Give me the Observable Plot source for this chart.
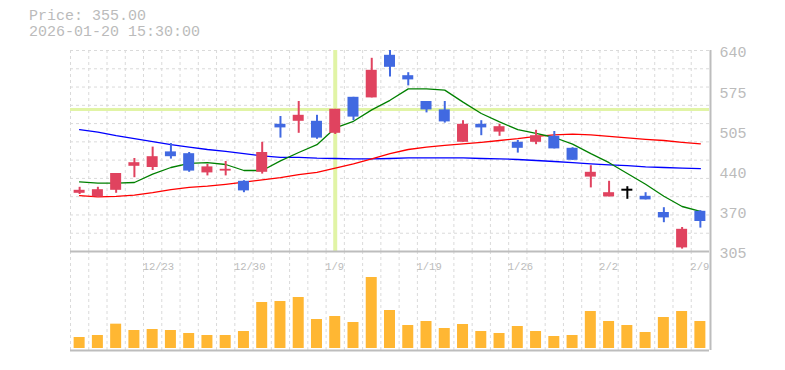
<!DOCTYPE html>
<html><head><meta charset="utf-8">
<script src="https://cdn.jsdelivr.net/npm/d3@7"></script>
<script src="https://cdn.jsdelivr.net/npm/@observablehq/plot@0.6"></script>
<style>
body{margin:0;background:#fff;}
#wrap{position:relative;width:785px;height:370px;overflow:hidden;background:#fff;}
#wrap svg{position:absolute;left:0;top:0;}
.ttl{position:absolute;left:29px;font-family:"Liberation Mono",monospace;font-size:15px;line-height:17px;color:#bbb;white-space:pre;}
</style></head><body>
<div id="wrap">
<div class="ttl" style="top:8px">Price: 355.00</div>
<div class="ttl" style="top:24px">2026-01-20 15:30:00</div>
</div>
<script>
const dates = ["12/17","12/18","12/19","12/22","12/23","12/24","12/25","12/26","12/29","12/30",
  "1/5","1/6","1/7","1/8","1/9","1/13","1/14","1/15","1/16","1/19",
  "1/20","1/21","1/22","1/23","1/26","1/27","1/28","1/29","1/30","2/2",
  "2/3","2/4","2/5","2/6","2/9"];
const open  = [402,396,407,447,445,471,468,436,439,422, 437,517,522,522,502,562,561,632,598,555, 541,487,517,504,487,487,497,477,429,396, 408,397,370,311,372];
const high  = [412,412,435,460,479,485,470,450,455,423, 487,530,555,532,542,562,627,640,603,555, 555,523,523,517,490,507,505,478,448,422, 413,403,378,345,373];
const low   = [400,395,402,428,440,459,437,431,431,403, 434,494,502,492,500,523,561,596,581,536, 519,487,498,497,469,483,476,457,411,396, 392,391,353,309,344];
const close = [407,408,435,453,463,463,439,446,442,406, 470,511,532,494,542,529,607,612,591,541, 521,517,511,513,477,498,476,457,437,403, 408,391,361,342,355];
const ma5   = [421,419,419,420,434,445,452,453,450,440, 440,456,470,483,511,522,541,557,576,576, 574,554,535,521,508,502,495,484,468,453, 435,417,397,380,372];
const ma25  = [398,396,397,399,403,408,412,414,417,420.5, 424.5,428,433,437,444,451,459.5,468,475,479, 482,484.5,487,490,493,497,499.5,500.5,499.5,497, 494.5,492,490,487,484.5];
const ma75  = [508,504,498,493,488,483,479,475,472,468, 464.5,462,462,460.5,460,459.5,459.5,460,461,461, 461,461,460,459.5,458.3,456.7,455,453,451,449.5, 448,446,445,444,443];
const volume = [33000,39000,73000,54000,57000,54000,45000,39000,39000,51000,
  138000,141000,153000,87000,96000,78000,213000,114000,69000,81000,
  60000,72000,51000,45000,66000,51000,36000,39000,111000,81000,
  69000,48000,93000,111000,81000];
const labelDates = ["12/23","12/30","1/9","1/19","1/26","2/2","2/9"];
const yTicks  = [305,372,439,506,573,640];
const yLabels = ["305","370","440","505","575","640"];
const crossDate = "1/9";
const crossPrice = 541.7;

const W = 785, H = 370, mL = 70, mR = 76;
const bw = (W - mL - mR) / dates.length;
const inset = (bw - 11) / 2;
const rows = dates.map((d, i) => ({date: d, o: open[i], h: high[i], l: low[i], c: close[i],
  v: volume[i], m5: ma5[i], m25: ma25[i], m75: ma75[i]}));
const col = r => r.c > r.o ? "#e0435f" : r.c < r.o ? "#4169e1" : "#000000";
const yDom = [305, 640];
const gridY = d3.range(12).map(k => yDom[0] + k * (yDom[1] - yDom[0]) / 11);
const grid = "#dadada", axisC = "#bdbdbd", cross = "#e1f4a6";
const font = "Liberation Mono, monospace";
const xOpt = {type: "band", domain: dates, padding: 0, round: false, axis: null};
const last = dates[dates.length - 1];

const price = Plot.plot({
  width: W, height: H, marginLeft: mL, marginRight: mR, marginTop: 50, marginBottom: H - 251,
  style: {background: "transparent", fontFamily: font, overflow: "visible"},
  x: xOpt,
  y: {domain: yDom, axis: null},
  marks: [
    Plot.ruleY(gridY.slice(1), {stroke: grid, strokeDasharray: "3,3"}),
    Plot.ruleX(dates, {x: d => d, dx: -bw / 2, stroke: grid, strokeDasharray: "3,3"}),
    Plot.ruleY([crossPrice], {stroke: cross, strokeWidth: 3}),
    Plot.ruleX([crossDate], {stroke: cross, strokeWidth: 4}),
    Plot.line(rows, {x: "date", y: "m75", stroke: "#0000ff", strokeWidth: 1.3}),
    Plot.line(rows, {x: "date", y: "m25", stroke: "#ff0000", strokeWidth: 1.3}),
    Plot.line(rows, {x: "date", y: "m5", stroke: "#008000", strokeWidth: 1.3}),
    Plot.ruleX(rows, {x: "date", y1: "l", y2: "h", stroke: col, strokeWidth: 2}),
    Plot.barY(rows.filter(r => r.o !== r.c), {x: "date", y1: "o", y2: "c", fill: col, insetLeft: inset, insetRight: inset}),
    Plot.tickY(rows.filter(r => r.o === r.c), {x: "date", y: "c", stroke: "#000", strokeWidth: 2, insetLeft: inset, insetRight: inset}),
    Plot.ruleY([yDom[0]], {stroke: axisC, strokeWidth: 2}),
    Plot.ruleX([last], {dx: bw / 2 + 1, stroke: axisC, strokeWidth: 2}),
    Plot.text(yTicks, {y: d => d, text: (d, i) => yLabels[i], frameAnchor: "right", textAnchor: "start",
      dx: 10, dy: 2, fill: "#bbb", fontSize: 15, fontFamily: font})
  ]
});

const vol = Plot.plot({
  width: W, height: H, marginLeft: mL, marginRight: mR, marginTop: 251, marginBottom: H - 350,
  style: {background: "transparent", fontFamily: font, overflow: "visible"},
  x: xOpt,
  y: {domain: [-6000, 291000], axis: null},
  marks: [
    Plot.ruleX(dates, {x: d => d, dx: -bw / 2, stroke: grid, strokeDasharray: "3,3"}),
    Plot.barY(rows, {x: "date", y: "v", fill: "#ffb733", insetLeft: inset, insetRight: inset}),
    Plot.ruleY([-6000], {stroke: axisC, strokeWidth: 2}),
    Plot.ruleX([last], {dx: bw / 2 + 1, stroke: axisC, strokeWidth: 2}),
    Plot.text(labelDates, {x: d => d, text: d => d, frameAnchor: "top", dy: 11, dx: -10,
      textAnchor: "start", fill: "#bbb", fontSize: 10.5, fontFamily: font})
  ]
});

const wrap = document.getElementById("wrap");
wrap.appendChild(vol);
wrap.appendChild(price);
</script>
</body></html>
